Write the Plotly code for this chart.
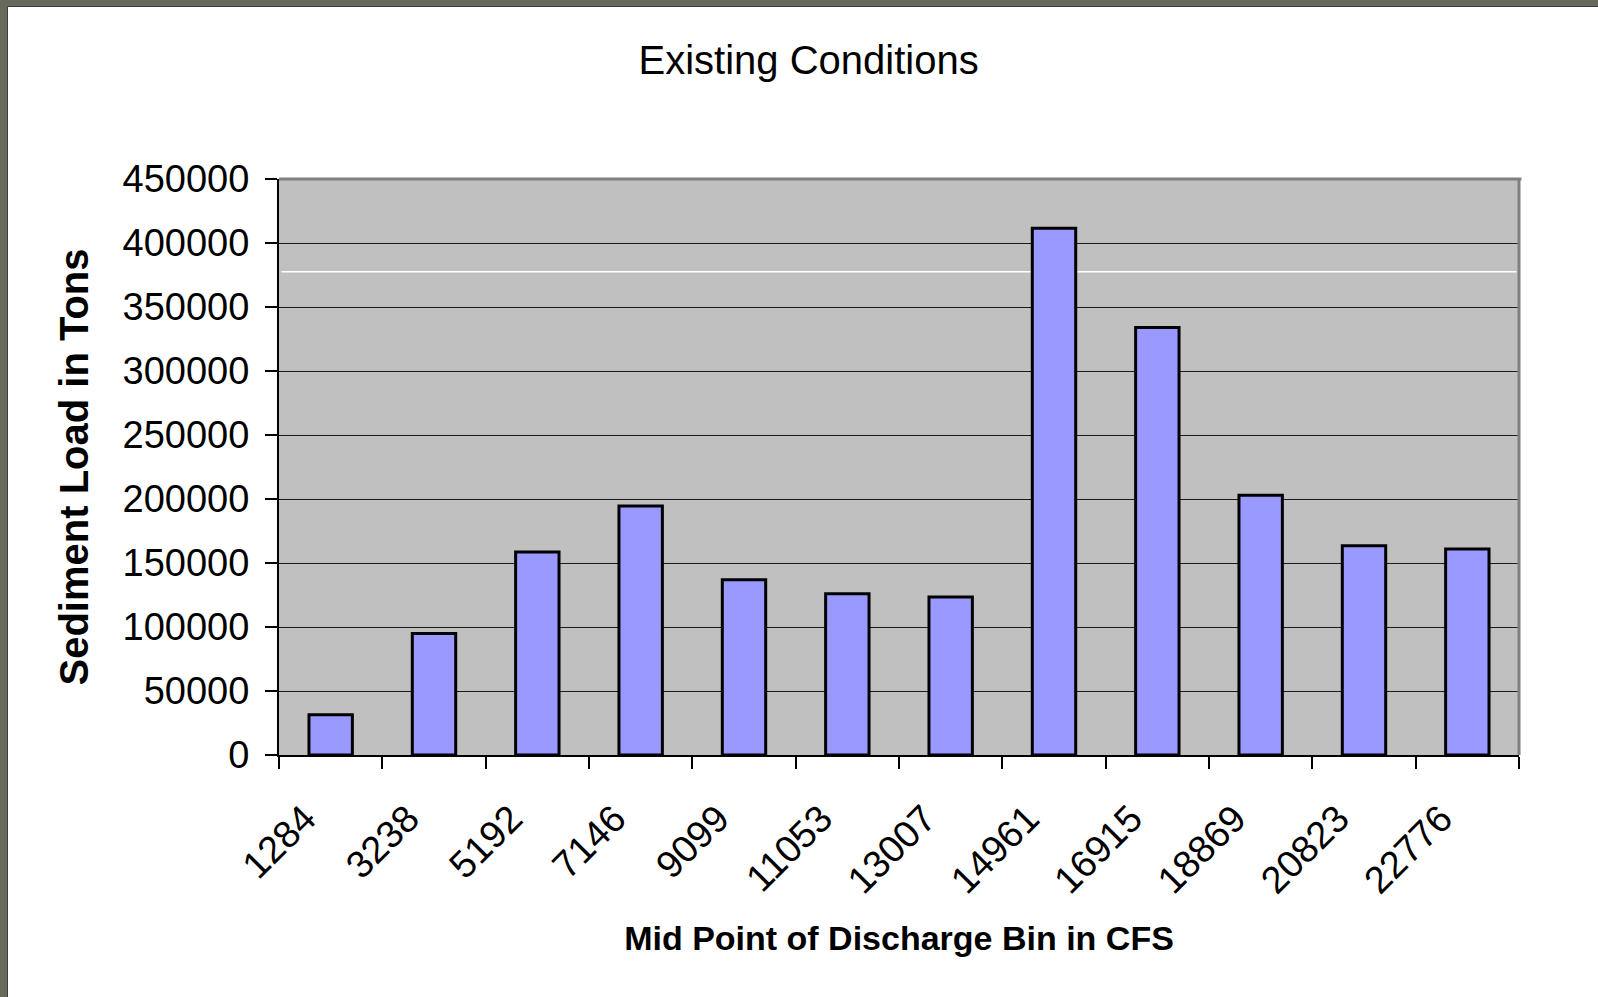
import plotly.graph_objects as go

categories = ["1284", "3238", "5192", "7146", "9099", "11053", "13007",
              "14961", "16915", "18869", "20823", "22776"]
sediment_tons = [31500, 95000, 158500, 194500, 137000, 126000, 123500,
                 411500, 334000, 203000, 163500, 161000]
y_ticks = [0, 50000, 100000, 150000, 200000, 250000, 300000, 350000, 400000, 450000]
artifact_line_y = 377500

W, H = 1598, 997
ML, MR, MT, MB = 279, 79, 179, 242
PW, PH = W - ML - MR, H - MT - MB

def px_x(px):
    return (px - ML) / PW

def px_y(py):
    return (H - MB - py) / PH

FONT = "Liberation Sans, Arial, sans-serif"

fig = go.Figure()
fig.add_trace(go.Bar(
    x=categories, y=sediment_tons,
    marker=dict(color="#9999FF", line=dict(color="black", width=3)),
    width=0.42,
))

shapes = [
    # page frame strips
    dict(type="rect", xref="paper", yref="paper",
         x0=px_x(0), x1=px_x(8), y0=px_y(H), y1=px_y(0),
         fillcolor="#676A5A", line=dict(width=0), layer="above"),
    dict(type="rect", xref="paper", yref="paper",
         x0=px_x(0), x1=px_x(W), y0=px_y(7), y1=px_y(0),
         fillcolor="#676A5A", line=dict(width=0), layer="above"),
    dict(type="line", xref="paper", yref="paper",
         x0=px_x(7.5), x1=px_x(7.5), y0=px_y(H), y1=px_y(7),
         line=dict(color="#3c3c3c", width=1), layer="above"),
    dict(type="line", xref="paper", yref="paper",
         x0=px_x(7.5), x1=px_x(W), y0=px_y(6.5), y1=px_y(6.5),
         line=dict(color="#3c3c3c", width=1), layer="above"),
    # plot-area top/right border
    dict(type="line", xref="paper", yref="paper", x0=0, x1=1.002, y0=1, y1=1,
         line=dict(color="#808080", width=3), layer="above"),
    dict(type="line", xref="paper", yref="paper", x0=1, x1=1, y0=0, y1=1,
         line=dict(color="#808080", width=3), layer="above"),
    # white artifact line in the plot area
    dict(type="line", xref="paper", yref="y", x0=0.002, x1=0.998,
         y0=artifact_line_y, y1=artifact_line_y,
         line=dict(color="white", width=1.5), layer="between"),
]

fig.update_layout(
    width=W, height=H,
    margin=dict(l=ML, r=MR, t=MT, b=MB, pad=0),
    paper_bgcolor="white", plot_bgcolor="#C0C0C0",
    font=dict(family=FONT, color="black"),
    showlegend=False,
    bargap=0.58,
    title=dict(text="Existing Conditions", x=0.506, xanchor="center",
               y=1 - 60 / H, yanchor="middle", yref="container",
               font=dict(size=40, family=FONT, color="black")),
    shapes=shapes,
    xaxis=dict(
        type="category", tickson="boundaries",
        ticks="outside", ticklen=12, tickwidth=1.5, tickcolor="black",
        showline=True, linecolor="black", linewidth=2,
        showgrid=False, tickangle=-45,
        tickfont=dict(size=38, family=FONT),
        ticklabelstandoff=24, ticklabelshift=-26,
        title=dict(text="Mid Point of Discharge Bin in CFS", standoff=26,
                   font=dict(size=34, family=FONT, weight="bold")),
        automargin=False,
    ),
    yaxis=dict(
        range=[0, 450000], tickvals=y_ticks, tickformat="d",
        ticks="outside", ticklen=12, tickwidth=1.5, tickcolor="black",
        showline=True, linecolor="black", linewidth=2,
        showgrid=True, gridcolor="#1a1a1a", gridwidth=1,
        zeroline=False,
        tickfont=dict(size=38, family=FONT),
        ticklabelstandoff=8,
        title=dict(text="Sediment Load in Tons", standoff=22,
                   font=dict(size=40, family=FONT, weight="bold")),
        automargin=False,
    ),
)

fig.write_html("out.html", config={"displayModeBar": False},
               post_script="document.body.style.margin='0';document.body.style.overflow='hidden';")
